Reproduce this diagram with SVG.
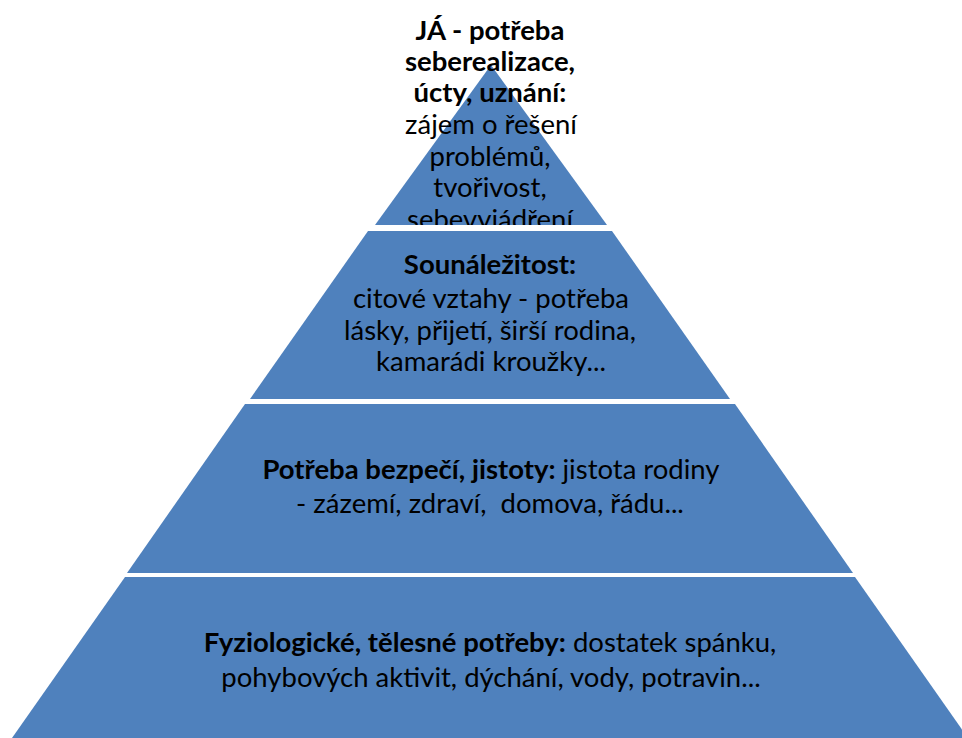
<svg xmlns="http://www.w3.org/2000/svg" width="962" height="738" viewBox="0 0 962 738">
<style>
.band{fill:#4F81BD;}
.t{font-family:Lato,"Liberation Sans",sans-serif;font-size:27.5px;fill:#000;text-anchor:middle;}
.b{font-weight:bold;}
</style>
<defs>
<clipPath id="topclip"><rect x="0" y="0" width="962" height="225"/></clipPath>
</defs>
<rect width="962" height="738" fill="#fff"/>
<g id="level4">
<polygon class="band" points="125,577 855,577 968,738 12,738"/>
<text class="t" x="490" y="652"><tspan class="b">Fyziologické, tělesné potřeby:</tspan> dostatek spánku,</text>
<text class="t" x="491" y="687">pohybových aktivit, dýchání, vody, potravin...</text>
</g>
<g id="level3">
<polygon class="band" points="245,404 735,404 853,573 127,573"/>
<text class="t" x="491" y="479"><tspan class="b">Potřeba bezpečí, jistoty:</tspan> jistota rodiny</text>
<text class="t" x="490" y="513" xml:space="preserve">- zázemí, zdraví,  domova, řádu...</text>
</g>
<g id="level2">
<polygon class="band" points="368,231 612,231 730,399 250,399"/>
<text class="t b" x="490" y="274">Sounáležitost:</text>
<text class="t" x="491" y="308">citové vztahy - potřeba</text>
<text class="t" x="490" y="340">lásky, přijetí, širší rodina,</text>
<text class="t" x="491" y="371">kamarádi kroužky...</text>
</g>
<g id="level1">
<polygon class="band" points="491,65 607,225 375,225"/>
<g clip-path="url(#topclip)">
<text class="t b" x="490" y="40">JÁ - potřeba</text>
<text class="t b" x="490" y="71">seberealizace,</text>
<text class="t b" x="490" y="102">úcty, uznání:</text>
<text class="t" x="491" y="134">zájem o řešení</text>
<text class="t" x="490" y="166">problémů,</text>
<text class="t" x="490" y="197">tvořivost,</text>
<text class="t" x="490" y="229">sebevyjádření</text>
</g>
</g>
<g id="connectors"/>
</svg>
